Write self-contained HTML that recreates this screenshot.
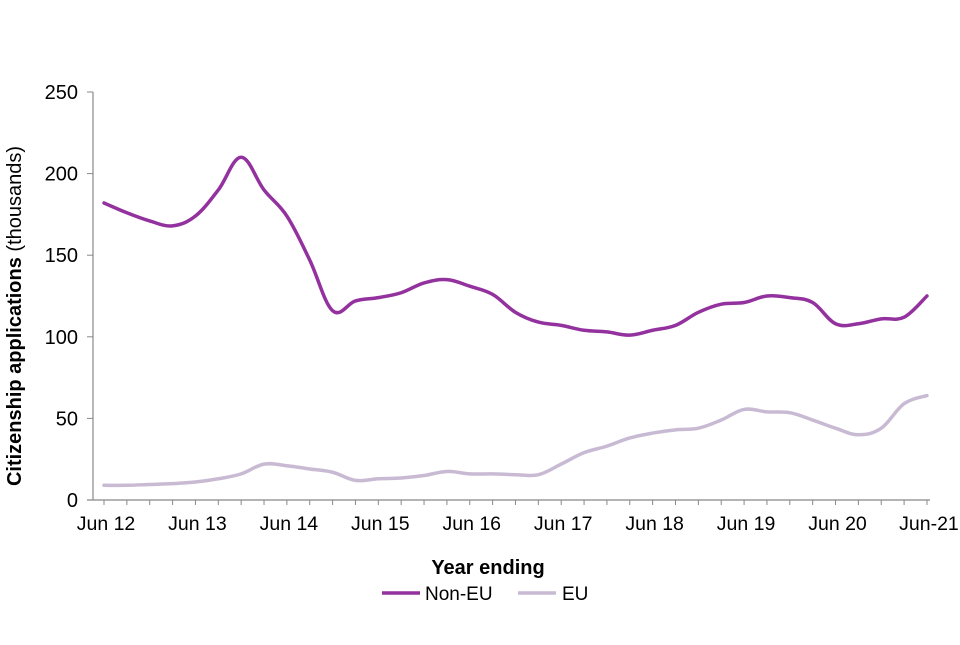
<!DOCTYPE html>
<html><head><meta charset="utf-8"><style>
body{margin:0;background:#fff;}
svg text{font-family:"Liberation Sans",Arial,sans-serif;fill:#000;}
</style></head><body>
<svg id="chart" width="960" height="640" viewBox="0 0 960 640">
<g id="axes"></g><g id="series"></g>
<text x="21" y="316" transform="rotate(-90 21 316)" text-anchor="middle" font-size="20"><tspan font-weight="bold">Citizenship applications</tspan> (thousands)</text>
<text x="488" y="574" text-anchor="middle" font-size="20" font-weight="bold">Year ending</text>
<g>
<line x1="382" y1="593" x2="420" y2="593" stroke="#93329e" stroke-width="3.5"/>
<text x="425" y="600" font-size="19">Non-EU</text>
<line x1="518" y1="593" x2="556" y2="593" stroke="#c9bad3" stroke-width="3.5"/>
<text x="562" y="600" font-size="19">EU</text>
</g>
</svg>
<script>
const nonEU=[182,176,171,168,174,190,210,190,174,147,116,122,124,127,133,135,131,126,115,109,107,104,103,101,104,107,115,120,121,125,124,121,108,108,111,112,125];
const eu=[9,9,9.5,10,11,13,16,22,21,19,17,12,13,13.5,15,17.5,16,16,15.5,15.5,22,29,33,38,41,43,44,49,55.5,54,53.5,49,44,40,44,59,64];
const yTicks=[0,50,100,150,200,250];
const xLabels=["Jun 12","Jun 13","Jun 14","Jun 15","Jun 16","Jun 17","Jun 18","Jun 19","Jun 20","Jun-21"];
const NS="http://www.w3.org/2000/svg";
const x0=104,step=22.86,yBase=500,yTop=92,yMax=250;
const X=i=>x0+i*step;
const Y=v=>yBase-v*(yBase-yTop)/yMax;
const axes=document.getElementById('axes'),ser=document.getElementById('series');
function mk(tag,attrs,parent){const e=document.createElementNS(NS,tag);for(const k in attrs)e.setAttribute(k,attrs[k]);parent.appendChild(e);return e;}
const ya=mk('line',{x1:93,y1:yTop,x2:93,y2:yBase,stroke:'#888','stroke-width':1.2},axes);


const xa=mk('line',{x1:87,y1:yBase,x2:930,y2:yBase,stroke:'#888','stroke-width':1.2},axes);


yTicks.forEach(v=>{
 mk('line',{x1:87,y1:Y(v),x2:93,y2:Y(v),stroke:'#888'},axes);
 const t=mk('text',{x:78,y:Y(v)+7,'text-anchor':'end','font-size':20},axes);t.textContent=v;
 
 
});
nonEU.forEach((_,i)=>{mk('line',{x1:X(i),y1:yBase,x2:X(i),y2:yBase+5,stroke:'#888'},axes);});
xLabels.forEach((l,k)=>{
 const i=k*4;
 const t=mk('text',{x:X(i)+2,y:530,'text-anchor':'middle','font-size':19.5},axes);t.textContent=l;
 
 
});
function smooth(arr){
 const p=arr.map((v,i)=>[X(i),Y(v)]);
 let d='M'+p[0][0]+','+p[0][1];
 const t=0.18;
 for(let i=0;i<p.length-1;i++){
  const a=p[Math.max(i-1,0)],b=p[i],c=p[i+1],e=p[Math.min(i+2,p.length-1)];
  d+=' C'+(b[0]+(c[0]-a[0])*t)+','+(b[1]+(c[1]-a[1])*t)+' '+(c[0]-(e[0]-b[0])*t)+','+(c[1]-(e[1]-b[1])*t)+' '+c[0]+','+c[1];
 }
 return d;
}
function line(arr,color,name){
 const p=mk('path',{d:smooth(arr),fill:'none',stroke:color,'stroke-width':3.5,'stroke-linejoin':'round','stroke-linecap':'round'},ser);
 
 
}
line(eu,'#c9bad3','eu-line');
line(nonEU,'#93329e','non-eu-line');
</script>
</body></html>
